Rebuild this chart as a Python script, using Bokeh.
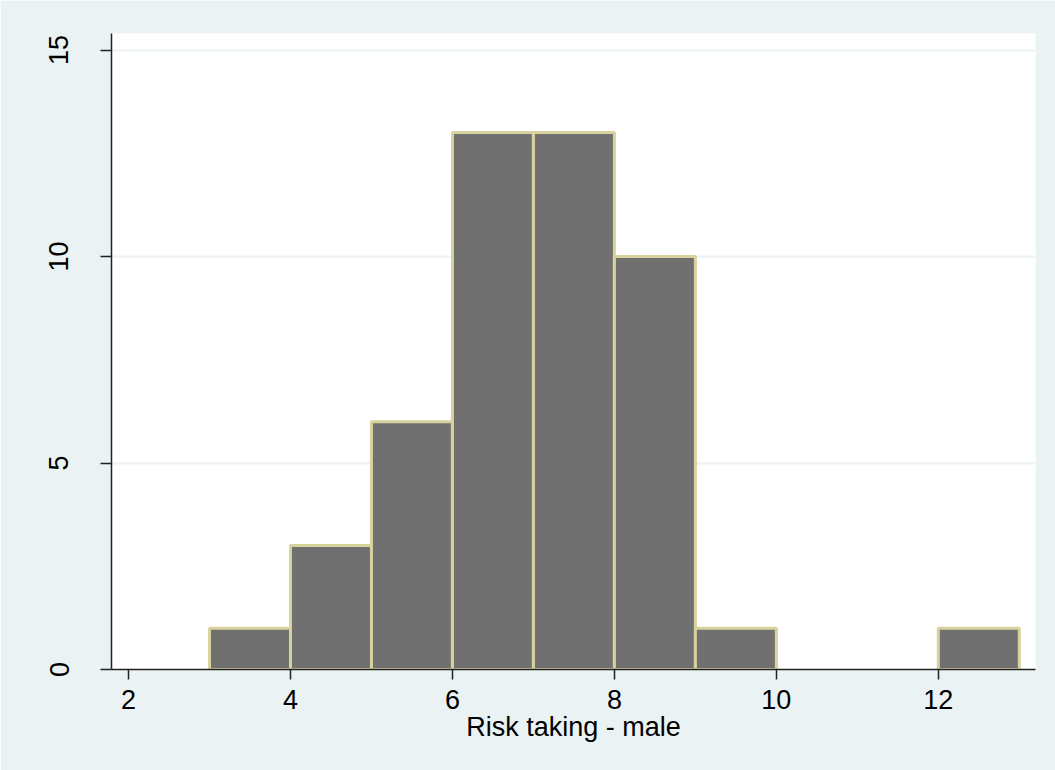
from bokeh.plotting import figure
from bokeh.models import Range1d, FixedTicker, ColumnDataSource
from bokeh.embed import file_html
from bokeh.resources import INLINE

# Data
bin_left = [3, 4, 5, 6, 7, 8, 9, 12]
bin_right = [4, 5, 6, 7, 8, 9, 10, 13]
counts = [1, 3, 6, 13, 13, 10, 1, 1]
x_ticks = [2, 4, 6, 8, 10, 12]
y_ticks = [0, 5, 10, 15]
x_title = "Risk taking - male"

BG = "#EAF2F3"
FONT = "Liberation Sans"

src = ColumnDataSource(dict(left=bin_left, right=bin_right, top=counts,
                            bottom=[0] * len(counts)))

p = figure(width=1055, height=770, output_backend="svg", toolbar_location=None,
           x_range=Range1d(1.79, 13.2), y_range=Range1d(0, 15.4),
           min_border_left=111, min_border_right=20, min_border_top=33,
           min_border_bottom=101)

p.quad(left="left", right="right", top="top", bottom="bottom", source=src,
       fill_color="#707070", line_color="#D8D29C", line_width=3)

p.background_fill_color = "white"
p.border_fill_color = BG
p.outline_line_color = None

p.xgrid.visible = False
p.ygrid.grid_line_color = BG
p.ygrid.grid_line_width = 2
p.ygrid.ticker = FixedTicker(ticks=[5, 10, 15])

for ax in (p.xaxis[0], p.yaxis[0]):
    ax.axis_line_color = "#222222"
    ax.axis_line_width = 1.5
    ax.major_tick_line_color = "#222222"
    ax.major_tick_line_width = 1.5
    ax.minor_tick_line_color = None
    ax.major_tick_in = 0
    ax.major_label_text_font = FONT
    ax.major_label_text_font_size = "27px"
    ax.major_label_text_color = "black"

p.xaxis.ticker = FixedTicker(ticks=x_ticks)
p.xaxis.major_tick_out = 10
p.xaxis.major_label_standoff = 10
p.xaxis.axis_label = x_title
p.xaxis.axis_label_text_font = FONT
p.xaxis.axis_label_text_font_size = "27px"
p.xaxis.axis_label_text_font_style = "normal"
p.xaxis.axis_label_text_color = "black"
p.xaxis.axis_label_standoff = 0

p.yaxis.ticker = FixedTicker(ticks=y_ticks)
p.yaxis.major_tick_out = 11
p.yaxis.major_label_standoff = 32
p.yaxis.major_label_orientation = "vertical"

html = file_html(p, INLINE)
html = html.replace("<body>", '<body style="background:%s;">' % BG, 1)
open("out.html", "w").write(html)
